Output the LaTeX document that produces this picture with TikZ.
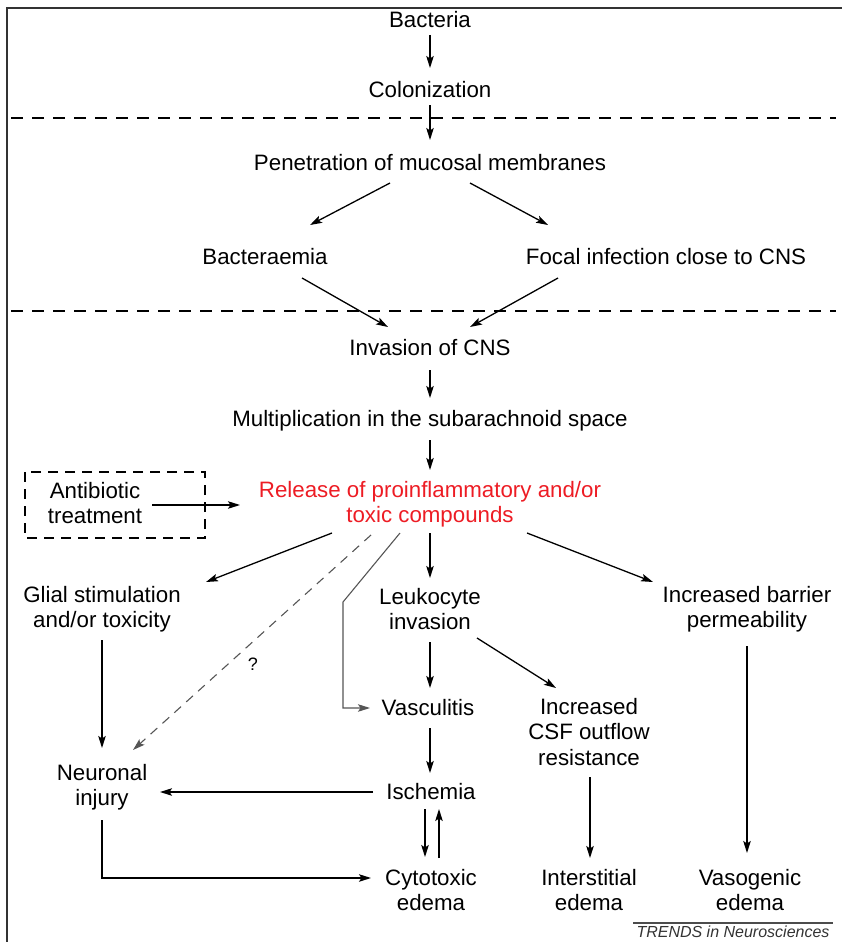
\documentclass[tikz,border=0pt]{standalone}
\usepackage{fontspec}
\setmainfont{Liberation Sans}
\usetikzlibrary{arrows.meta}
\definecolor{relred}{RGB}{237,28,36}
\definecolor{linegray}{RGB}{85,85,85}
\begin{document}
\begin{tikzpicture}[x=1pt,y=-1pt,
  lbl/.style={align=center, inner sep=0pt, font=\fontsize{22.3}{25.5}\selectfont},
  arr/.style={line width=1.3pt, -{Stealth[length=12pt,width=7.5pt,inset=2.5pt]}},
  garr/.style={line width=1.1pt, draw=linegray, -{Stealth[length=12pt,width=7.5pt,inset=2.5pt]}},
  sep/.style={line width=1.3pt, dash pattern=on 12pt off 9pt},
  gdash/.style={line width=1.1pt, draw=linegray, dash pattern=on 9pt off 7pt, -{Stealth[length=12pt,width=7.5pt,inset=2.5pt]}},
  boxdash/.style={line width=1.2pt, dash pattern=on 10pt off 7pt},
]
\useasboundingbox (0,0) rectangle (842,942);
% frame
\draw[line width=2pt, black!80] (7,942) -- (7,8) -- (842,8);
% separators
\draw[sep] (11,118) -- (836,118);
\draw[sep] (11,311) -- (836,311);
% nodes
\node[lbl] (bac) at (430,20) {Bacteria};
\node[lbl] (col) at (430,90) {Colonization};
\node[lbl] (pen) at (430,163) {Penetration of mucosal membranes};
\node[lbl] (bact) at (265,257) {Bacteraemia};
\node[lbl] (focal) at (666,257) {Focal infection close to CNS};
\node[lbl] (inv) at (430,348) {Invasion of CNS};
\node[lbl] (mult) at (430,421) {Multiplication in the subarachnoid space};
\node[lbl, text=relred] (rel) at (430,504) {Release of proinflammatory and/or\\toxic compounds};
\node[lbl] (anti) at (95,503) {Antibiotic\\treatment};
\draw[boxdash] (25,472) rectangle (205,538);
\node[lbl] (glial) at (102,609) {Glial stimulation\\and/or toxicity};
\node[lbl] (leuk) at (430,609) {Leukocyte\\invasion};
\node[lbl] (barr) at (747,609) {Increased barrier\\permeability};
\node[lbl] (vasc) at (428,708) {Vasculitis};
\node[lbl] (csf) at (589,732) {Increased\\CSF outflow\\resistance};
\node[lbl] (neur) at (102,787) {Neuronal\\injury};
\node[lbl] (isch) at (431,792) {Ischemia};
\node[lbl] (cyto) at (431,890) {Cytotoxic\\edema};
\node[lbl] (inter) at (589,890) {Interstitial\\edema};
\node[lbl] (vaso) at (750,890) {Vasogenic\\edema};
\node[inner sep=0pt, font=\fontsize{18}{20}\selectfont] (q) at (253,664) {?};
% connectors
\draw[arr] ([yshift=-15pt]bac.center) -- ([yshift=22pt]col.center);
\draw[arr] ([yshift=-15pt]col.center) -- ([yshift=23pt]pen.center);
\draw[arr] ([xshift=-40pt,yshift=-20pt]pen.center) -- ([xshift=45pt,yshift=32pt]bact.center);
\draw[arr] ([xshift=40pt,yshift=-20pt]pen.center) -- ([xshift=-118pt,yshift=32pt]focal.center);
\draw[arr] ([xshift=37pt,yshift=-21pt]bact.center) -- ([xshift=-42pt,yshift=21pt]inv.center);
\draw[arr] ([xshift=-108pt,yshift=-21pt]focal.center) -- ([xshift=40pt,yshift=21pt]inv.center);
\draw[arr] ([yshift=-22pt]inv.center) -- ([yshift=23pt]mult.center);
\draw[arr] ([yshift=-19pt]mult.center) -- ([yshift=34pt]rel.center);
\draw[arr] ([xshift=57pt,yshift=-2pt]anti.center) -- ([xshift=-190pt,yshift=-1pt]rel.center);
\draw[arr] ([xshift=-98pt,yshift=-29pt]rel.center) -- ([xshift=104pt,yshift=27pt]glial.center);
\draw[gdash] ([xshift=-59pt,yshift=-31pt]rel.center) -- ([xshift=31pt,yshift=37pt]neur.center);
\draw[garr] ([xshift=-30pt,yshift=-29pt]rel.center) -- ++(-57,69) |- ([xshift=-58pt]vasc.center);
\draw[arr] ([yshift=-29pt]rel.center) -- ([yshift=31pt]leuk.center);
\draw[arr] ([xshift=97pt,yshift=-29pt]rel.center) -- ([xshift=-94pt,yshift=27pt]barr.center);
\draw[arr] ([yshift=-31pt]glial.center) -- ([yshift=39pt]neur.center);
\draw[arr] ([yshift=-33pt]leuk.center) -- ([xshift=2pt,yshift=20pt]vasc.center);
\draw[arr] ([xshift=47pt,yshift=-29pt]leuk.center) -- ([xshift=-33pt,yshift=44pt]csf.center);
\draw[arr] ([yshift=-37pt]barr.center) -- ([xshift=-3pt,yshift=37pt]vaso.center);
\draw[arr] ([xshift=2pt,yshift=-20pt]vasc.center) -- ([xshift=-1pt,yshift=19pt]isch.center);
\draw[arr] ([xshift=-58pt]isch.center) -- ([xshift=58pt,yshift=-5pt]neur.center);
\draw[arr] ([xshift=-6pt,yshift=-17pt]isch.center) -- ([xshift=-6pt,yshift=33pt]cyto.center);
\draw[arr] ([xshift=8pt,yshift=32pt]cyto.center) -- ([xshift=8pt,yshift=-17pt]isch.center);
\draw[arr] ([yshift=-33pt]neur.center) |- ([xshift=-60pt,yshift=12pt]cyto.center);
\draw[arr] ([xshift=1pt,yshift=-45pt]csf.center) -- ([xshift=1pt,yshift=32pt]inter.center);
% footer
\draw[line width=1.8pt, black!70] (633,923) -- (833,923);
\node[inner sep=0pt, text=black!80, font=\fontsize{16}{18}\selectfont\itshape] (trends) at (733,932) {TRENDS in Neurosciences};
\end{tikzpicture}
\end{document}
